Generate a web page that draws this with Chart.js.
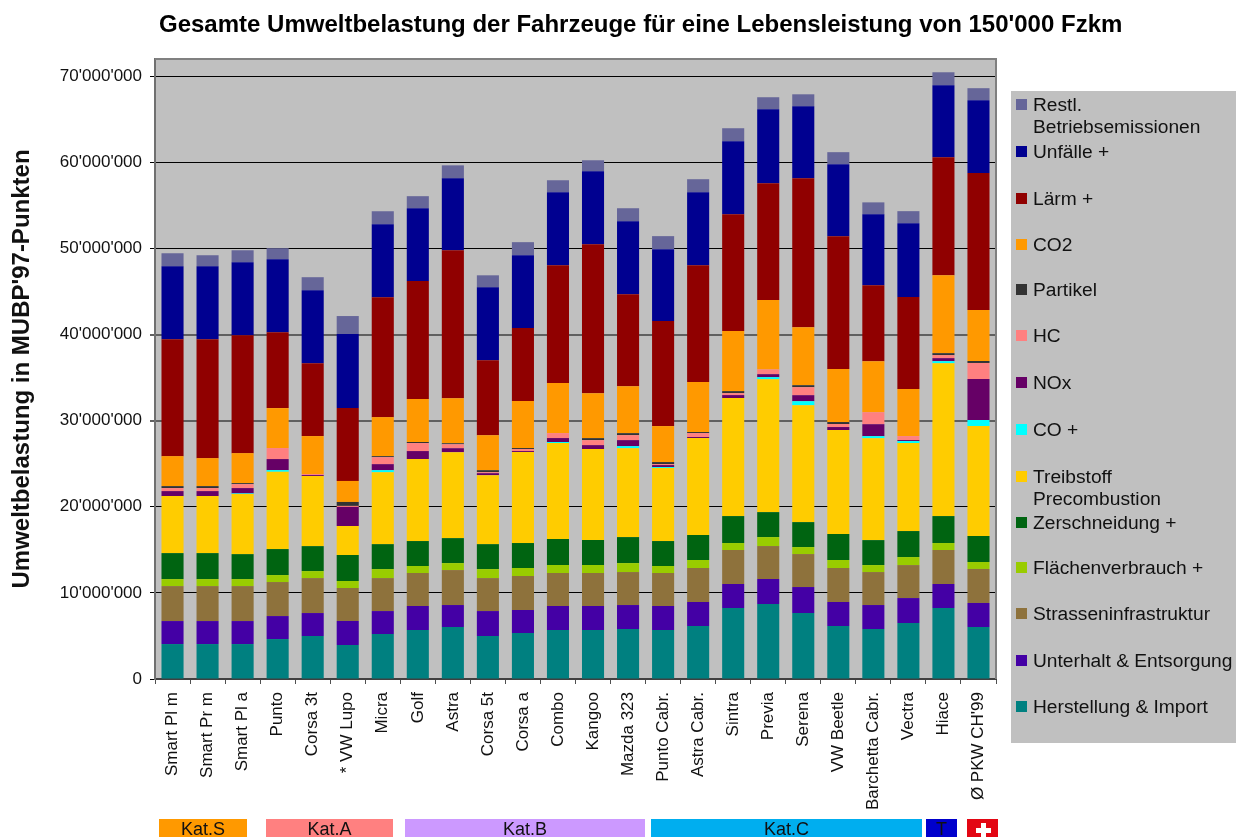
<!DOCTYPE html>
<html lang="de">
<head>
<meta charset="utf-8">
<title>Gesamte Umweltbelastung</title>
<script src="https://cdn.jsdelivr.net/npm/chart.js@4/dist/chart.umd.min.js"></script>
<style>html,body{margin:0;padding:0;background:#fff;overflow:hidden}canvas{display:block}</style>
</head>
<body>
<canvas id="c" width="1236" height="837"></canvas>
<script>
const titleText = "Gesamte Umweltbelastung der Fahrzeuge für eine Lebensleistung von 150'000 Fzkm";
const yTitle = "Umweltbelastung in MUBP'97-Punkten";
const categories = ["Smart Pl m","Smart Pr m","Smart Pl a","Punto","Corsa 3t","* VW Lupo","Micra","Golf","Astra","Corsa 5t","Corsa a","Combo","Kangoo","Mazda 323","Punto Cabr.","Astra Cabr.","Sintra","Previa","Serena","VW Beetle","Barchetta Cabr.","Vectra","Hiace","Ø PKW CH'99"];
const yTickValues = [0,10000000,20000000,30000000,40000000,50000000,60000000,70000000];

const herstellung = [4.06e6,4.06e6,4.06e6,4.64e6,4.99e6,3.95e6,5.22e6,5.69e6,6.04e6,4.99e6,5.34e6,5.69e6,5.69e6,5.80e6,5.69e6,6.15e6,8.24e6,8.71e6,7.66e6,6.15e6,5.80e6,6.50e6,8.24e6,6.04e6];
const unterhalt = [2.67e6,2.67e6,2.67e6,2.67e6,2.67e6,2.79e6,2.67e6,2.79e6,2.55e6,2.90e6,2.67e6,2.79e6,2.79e6,2.79e6,2.79e6,2.79e6,2.79e6,2.90e6,3.02e6,2.79e6,2.79e6,2.90e6,2.79e6,2.79e6];
const strasse = [4.06e6,4.06e6,4.06e6,3.95e6,4.06e6,3.83e6,3.83e6,3.83e6,4.06e6,3.83e6,3.95e6,3.83e6,3.83e6,3.83e6,3.83e6,3.95e6,3.95e6,3.83e6,3.83e6,3.95e6,3.83e6,3.83e6,3.95e6,3.95e6];
const flaeche = [0.81e6,0.81e6,0.81e6,0.81e6,0.81e6,0.81e6,1.04e6,0.81e6,0.81e6,1.04e6,0.93e6,0.93e6,0.93e6,1.04e6,0.81e6,0.93e6,0.81e6,1.04e6,0.81e6,0.93e6,0.81e6,0.93e6,0.81e6,0.81e6];
const zerschneidung = [3.02e6,3.02e6,2.90e6,3.02e6,2.90e6,3.02e6,2.90e6,2.90e6,2.90e6,2.90e6,2.90e6,3.02e6,2.90e6,3.02e6,2.90e6,2.90e6,3.13e6,2.90e6,2.90e6,3.02e6,2.90e6,3.02e6,3.13e6,3.02e6];
const treibstoff = [6.62e6,6.62e6,6.97e6,8.97e6,8.13e6,3.37e6,8.36e6,9.52e6,9.98e6,8.01e6,10.56e6,11.14e6,10.56e6,10.33e6,8.47e6,11.26e6,13.70e6,15.44e6,13.58e6,12.07e6,11.84e6,10.22e6,17.76e6,12.77e6];
const co = [0,0,0.08e6,0.20e6,0,0,0.23e6,0,0,0,0,0.12e6,0,0.23e6,0.12e6,0,0,0.23e6,0.46e6,0,0.23e6,0.23e6,0.23e6,0.70e6];
const nox = [0.58e6,0.58e6,0.62e6,1.28e6,0.12e6,2.21e6,0.70e6,0.93e6,0.46e6,0.23e6,0.12e6,0.46e6,0.46e6,0.70e6,0.23e6,0.12e6,0.35e6,0.35e6,0.70e6,0.35e6,1.39e6,0.12e6,0.35e6,4.76e6];
const hc = [0.35e6,0.35e6,0.46e6,1.28e6,0.12e6,0.12e6,0.81e6,0.93e6,0.46e6,0.12e6,0.23e6,0.58e6,0.58e6,0.58e6,0.12e6,0.46e6,0.23e6,0.55e6,0.93e6,0.35e6,1.39e6,0.46e6,0.35e6,1.86e6];
const partikel = [0.23e6,0.23e6,0.12e6,0,0,0.46e6,0.12e6,0.12e6,0.12e6,0.23e6,0.12e6,0,0.23e6,0.23e6,0.23e6,0.12e6,0.23e6,0,0.23e6,0.23e6,0,0,0.23e6,0.23e6];
const co2 = [3.48e6,3.25e6,3.48e6,4.64e6,4.41e6,2.44e6,4.53e6,4.99e6,5.22e6,4.06e6,5.46e6,5.80e6,5.22e6,5.46e6,4.18e6,5.80e6,6.97e6,8.05e6,6.73e6,6.15e6,5.92e6,5.46e6,9.05e6,5.92e6];
const laerm = [13.58e6,13.81e6,13.70e6,8.82e6,8.47e6,8.47e6,13.93e6,13.70e6,17.18e6,8.71e6,8.47e6,13.70e6,17.30e6,10.68e6,12.19e6,13.58e6,13.58e6,13.58e6,17.30e6,15.44e6,8.82e6,10.68e6,13.70e6,15.90e6];
const unfaelle = [8.47e6,8.47e6,8.47e6,8.47e6,8.47e6,8.59e6,8.47e6,8.47e6,8.36e6,8.47e6,8.47e6,8.47e6,8.47e6,8.47e6,8.36e6,8.47e6,8.47e6,8.59e6,8.36e6,8.36e6,8.24e6,8.59e6,8.36e6,8.47e6];
const restlich = [1.51e6,1.28e6,1.39e6,1.28e6,1.51e6,2.09e6,1.51e6,1.39e6,1.51e6,1.39e6,1.51e6,1.39e6,1.28e6,1.51e6,1.51e6,1.51e6,1.51e6,1.39e6,1.39e6,1.39e6,1.39e6,1.39e6,1.51e6,1.39e6];

const seriesLabels = ["Herstellung & Import","Unterhalt & Entsorgung","Strasseninfrastruktur","Flächenverbrauch +","Zerschneidung +","Treibstoff Precombustion","CO +","NOx","HC","Partikel","CO2","Lärm +","Unfälle +","Restl. Betriebsemissionen"];
const seriesValues = [herstellung,unterhalt,strasse,flaeche,zerschneidung,treibstoff,co,nox,hc,partikel,co2,laerm,unfaelle,restlich];
const seriesColors = ["#008080","#4400A5","#8E723C","#99CC00","#006411","#FFCC00","#00FFFF","#660066","#FF8080","#333333","#FF9900","#900000","#000090","#666699"];

const legendRows = [
  {i:13, lines:["Restl.","Betriebsemissionen"], y:104},
  {i:12, lines:["Unfälle +"], y:151},
  {i:11, lines:["Lärm +"], y:198},
  {i:10, lines:["CO2"], y:244},
  {i:9, lines:["Partikel"], y:289},
  {i:8, lines:["HC"], y:335},
  {i:7, lines:["NOx"], y:382},
  {i:6, lines:["CO +"], y:429},
  {i:5, lines:["Treibstoff","Precombustion"], y:476},
  {i:4, lines:["Zerschneidung +"], y:522},
  {i:3, lines:["Flächenverbrauch +"], y:567},
  {i:2, lines:["Strasseninfrastruktur"], y:613},
  {i:1, lines:["Unterhalt & Entsorgung"], y:660},
  {i:0, lines:["Herstellung & Import"], y:706}
];
const katLabels = ["Kat.S","Kat.A","Kat.B","Kat.C","T",""];
const katBoxes = [[159,247,"#FF9900"],[266,393,"#FF8080"],[405,645,"#CC99FF"],[651,922,"#00AEEF"],[926,957,"#0000CC"],[967,998,"#E30613"]];

const FONT = '"Liberation Sans", Arial, sans-serif';
const decor = {
  id:'decor',
  beforeDraw(chart){
    const {ctx, chartArea:a} = chart;
    ctx.save();
    ctx.fillStyle = '#C0C0C0';
    ctx.fillRect(a.left, a.top, a.right-a.left, a.bottom-a.top);
    ctx.restore();
  },
  afterDraw(chart){
    const {ctx, chartArea:a} = chart;
    ctx.save();
    ctx.strokeStyle = '#808080';
    ctx.lineWidth = 2;
    ctx.beginPath();
    ctx.moveTo(a.left, a.top); ctx.lineTo(a.right, a.top); ctx.lineTo(a.right, a.bottom);
    ctx.stroke();
    ctx.save();
    ctx.beginPath(); ctx.rect(150, 5, 971, 40); ctx.clip();
    ctx.fillStyle = '#000';
    ctx.font = 'bold 24px '+FONT;
    ctx.textAlign = 'left'; ctx.textBaseline = 'middle';
    ctx.fillText(titleText, 159, 25);
    ctx.restore();
    ctx.fillStyle = '#C0C0C0';
    ctx.fillRect(1011, 91, 225, 652);
    ctx.font = '19.2px '+FONT;
    ctx.textAlign = 'left'; ctx.textBaseline = 'middle';
    legendRows.forEach(r=>{
      ctx.fillStyle = seriesColors[r.i];
      ctx.fillRect(1016, r.y-5, 11, 11);
      ctx.fillStyle = '#111';
      r.lines.forEach((t,k)=>ctx.fillText(t, 1033, r.y+1.5+k*22.5));
    });
    katBoxes.forEach((b,k)=>{
      ctx.fillStyle = b[2];
      ctx.fillRect(b[0], 819, b[1]-b[0], 18);
      ctx.fillStyle = '#111';
      ctx.font = '18px '+FONT;
      ctx.textAlign = 'center'; ctx.textBaseline = 'middle';
      ctx.fillText(katLabels[k], (b[0]+b[1])/2, 830);
    });
    ctx.fillStyle = '#fff';
    ctx.fillRect(981, 823, 5, 14);
    ctx.fillRect(976, 828, 15, 5);
    ctx.restore();
  }
};

new Chart(document.getElementById('c').getContext('2d'), {
  type:'bar',
  data:{
    labels:categories,
    datasets:seriesValues.map((v,i)=>({label:seriesLabels[i],data:v,backgroundColor:seriesColors[i],borderWidth:0,categoryPercentage:1,barPercentage:0.63}))
  },
  plugins:[decor],
  options:{
    responsive:false,
    animation:false,
    layout:{padding:{left:0,top:59,right:240,bottom:0}},
    plugins:{legend:{display:false},title:{display:false},tooltip:{enabled:false}},
    scales:{
      x:{
        stacked:true,
        afterFit(s){s.height=158;},
        border:{color:'#404040',width:2},
        grid:{drawOnChartArea:false,drawTicks:true,tickLength:5,color:'#505050'},
        ticks:{minRotation:90,maxRotation:90,autoSkip:false,padding:8,color:'#111',font:{family:FONT,size:17}}
      },
      y:{
        stacked:true,min:0,max:72000000,
        afterFit(s){s.width=155;},
        afterBuildTicks(s){s.ticks=yTickValues.map(v=>({value:v}));},
        border:{color:'#707070',width:2},
        grid:{drawTicks:true,tickLength:5,
          color:c=>(c.tick&&(c.tick.value===30000000||c.tick.value===40000000))?'#606060':'#000',
          lineWidth:c=>(c.tick&&(c.tick.value===30000000||c.tick.value===40000000))?2:1},
        ticks:{padding:8,color:'#111',font:{family:FONT,size:17},
          callback:v=>String(v).replace(/\B(?=(\d{3})+(?!\d))/g,"'")},
        title:{display:true,text:yTitle,color:'#111',font:{family:FONT,size:24,weight:'bold',lineHeight:1.2},padding:{top:8,bottom:0}}
      }
    }
  }
});
</script>
</body>
</html>
